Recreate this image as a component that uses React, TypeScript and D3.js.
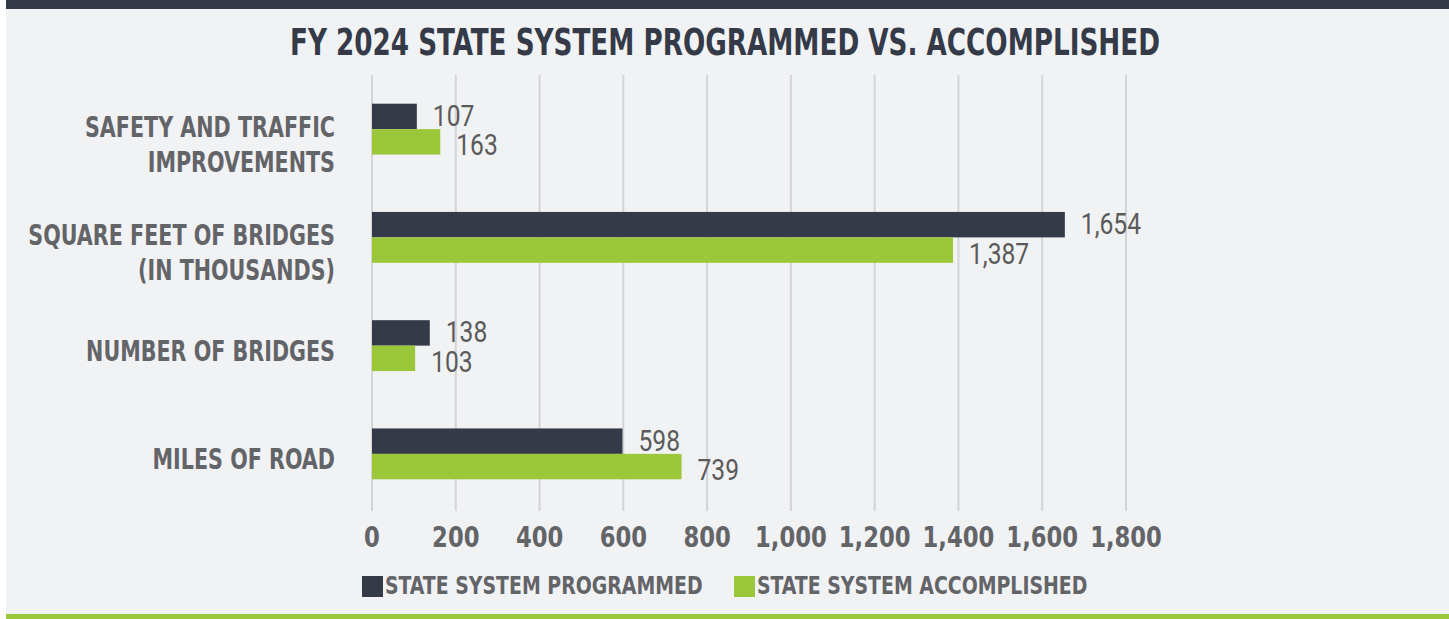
import { useRef, useEffect } from 'react';
import * as d3 from 'd3';

const categories = ['SAFETY AND TRAFFIC|IMPROVEMENTS', 'SQUARE FEET OF BRIDGES|(IN THOUSANDS)', 'NUMBER OF BRIDGES', 'MILES OF ROAD'];
const programmed = [107, 1654, 138, 598];
const accomplished = [163, 1387, 103, 739];
const seriesNames = ['STATE SYSTEM PROGRAMMED', 'STATE SYSTEM ACCOMPLISHED'];
const ticks = [0, 200, 400, 600, 800, 1000, 1200, 1400, 1600, 1800];
const title = 'FY 2024 STATE SYSTEM PROGRAMMED VS. ACCOMPLISHED';

const W = 1449;
const H = 619;
const dark = '#343a48';
const green = '#9bc83b';
const gray = '#636467';
const narrow = "'Liberation Sans Narrow', 'DejaVu Sans Condensed', sans-serif";

// squeeze text horizontally, the condensed face isn't installed
const squeeze = (sel, k) => {
    sel.each(function () {
        const len = this.getComputedTextLength();
        d3.select(this).attr('textLength', len * k).attr('lengthAdjust', 'spacingAndGlyphs');
    });
};

const App = () => {
    const ref = useRef(null);

    useEffect(() => {
        const svg = d3.select(ref.current);
        svg.selectAll('*').remove();

        svg.append('rect').attr('x', 6).attr('y', 0).attr('width', W - 6).attr('height', H).attr('fill', '#f1f2f4');
        svg.append('rect').attr('x', 6).attr('y', 0).attr('width', W - 6).attr('height', 9).attr('fill', dark);
        svg.append('rect').attr('x', 6).attr('y', 614).attr('width', W - 6).attr('height', 5).attr('fill', green);

        svg.append('text')
            .attr('x', 725).attr('y', 55)
            .attr('text-anchor', 'middle')
            .attr('font-family', narrow).attr('font-weight', 'bold').attr('font-size', 38)
            .attr('fill', dark)
            .attr('textLength', 870).attr('lengthAdjust', 'spacingAndGlyphs')
            .text(title);

        const x = d3.scaleLinear().domain([0, 1800]).range([372, 1126]);
        const y = d3.scaleBand().domain(categories).range([75, 508]).paddingInner(0.53).paddingOuter(0.265);
        const bh = y.bandwidth() / 2;

        // gridlines
        svg.append('g').selectAll('line').data(ticks).join('line')
            .attr('x1', d => x(d)).attr('x2', d => x(d))
            .attr('y1', 75).attr('y2', 511)
            .attr('stroke', '#d3d4d6').attr('stroke-width', 2);

        // tick labels
        const tickText = svg.append('g').selectAll('text').data(ticks).join('text')
            .attr('x', d => x(d)).attr('y', 547)
            .attr('text-anchor', 'middle')
            .attr('font-family', narrow).attr('font-weight', 'bold').attr('font-size', 28)
            .attr('fill', gray)
            .text(d => d3.format(',')(d));
        squeeze(tickText, 0.9);

        // category labels
        categories.forEach(c => {
            const lines = c.split('|');
            const cy = y(c) + y.bandwidth() / 2;
            lines.forEach((l, i) => {
                const t = svg.append('text')
                    .attr('x', 335)
                    .attr('y', lines.length === 1 ? cy + 15 : cy + 8 + i * 35)
                    .attr('text-anchor', 'end')
                    .attr('font-family', narrow).attr('font-weight', 'bold').attr('font-size', 27.5)
                    .attr('fill', gray)
                    .text(l);
                squeeze(t, 0.835);
            });
        });

        const series = [programmed, accomplished];
        const colors = [dark, green];
        const labelDy = [9.5, 13.5];
        series.forEach((vals, si) => {
            const g = svg.append('g');
            g.selectAll('rect').data(vals).join('rect')
                .attr('x', x(0))
                .attr('y', (d, i) => y(categories[i]) + si * bh)
                .attr('width', d => x(d) - x(0))
                .attr('height', bh)
                .attr('fill', colors[si]);
            const vt = g.selectAll('text').data(vals).join('text')
                .attr('x', d => x(d) + 16)
                .attr('y', (d, i) => y(categories[i]) + si * bh + bh / 2 + labelDy[si])
                .attr('font-family', 'Roboto, sans-serif').attr('font-size', 30)
                .attr('fill', '#5a5a5a')
                .text(d => d3.format(',')(d));
            squeeze(vt, 0.82);
        });

        // legend
        const legendX = [362, 734];
        seriesNames.forEach((n, i) => {
            svg.append('rect').attr('x', legendX[i]).attr('y', 576).attr('width', 21).attr('height', 21).attr('fill', colors[i]);
            const lt = svg.append('text')
                .attr('x', legendX[i] + 23).attr('y', 594)
                .attr('font-family', narrow).attr('font-weight', 'bold').attr('font-size', 25)
                .attr('fill', gray)
                .text(n);
            squeeze(lt, 0.84);
        });
    }, []);

    return <svg ref={ref} width={W} height={H} style={{ position: 'absolute', left: 0, top: 0 }} />;
};

export default App;
